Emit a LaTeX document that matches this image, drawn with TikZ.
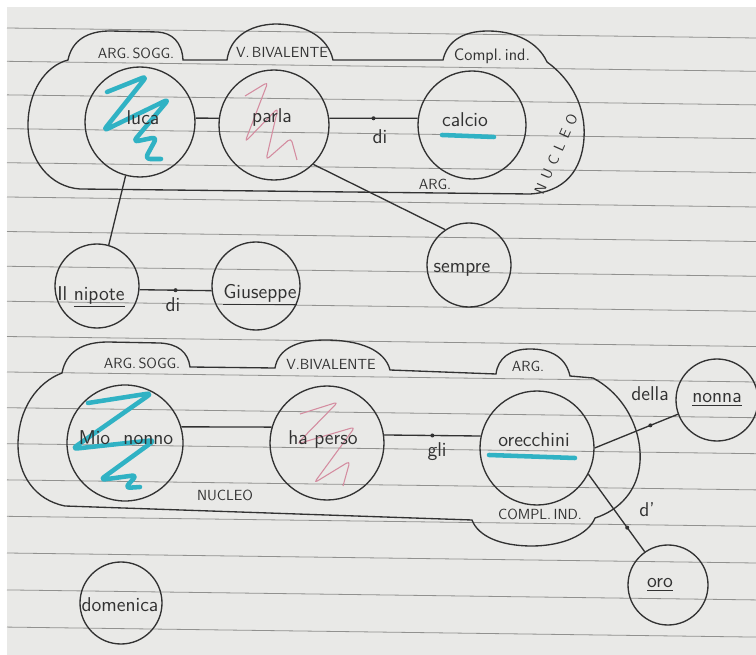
\documentclass[tikz,border=0pt]{standalone}
\usepackage{fontspec}
\usepackage{amsmath}
\usepackage{tikz}

\definecolor{paper}{RGB}{233,233,231}
\definecolor{ruling}{RGB}{145,145,143}
\definecolor{pen}{RGB}{50,50,50}
\definecolor{marker}{RGB}{48,178,196}
\definecolor{rosa}{RGB}{212,140,160}

\begin{document}
\begin{tikzpicture}[x=0.75pt,y=0.75pt,yscale=-1,xscale=1,
  ring/.style={circle,draw=pen,line width=1pt,inner sep=0pt,minimum size=1.5*#1pt},
  word/.style={font=\sffamily\fontsize{15}{15}\selectfont,text=pen,inner sep=0.75pt},
  tag/.style={font=\sffamily\fontsize{11}{11}\selectfont,text=pen,inner sep=0.75pt},
  link/.style={draw=pen,line width=1pt},
  knot/.style={circle,fill=pen,inner sep=0pt,minimum size=3pt},
  zig/.style={line width=3.4pt,marker,line cap=round,line join=round,rounded corners=4pt},
  pinkzig/.style={line width=0.8pt,rosa,line join=round,rounded corners=3pt},
  cloud/.style={draw=pen,line width=1pt}]
\useasboundingbox (0,0) rectangle (756,655);

%Paper
\fill[white] (0,0) rectangle (756,655);
\fill[paper] (7,7) rectangle (756,655);
\foreach \k in {0,...,17}
  \draw[ruling,line width=0.6pt] (7,{28+33.2*\k+0.12*\k*\k}) -- (756,{38+33.2*\k+0.12*\k*\k});

%Shape: top cloud (nucleo)
\draw[cloud] (68,60) .. controls (72,40) and (88,31) .. (110,31) -- (158,32) .. controls (172,33) and (182,42) .. (183,60) -- (227,60) .. controls (230,38) and (248,25) .. (275,24) .. controls (305,24) and (328,37) .. (333,60) -- (443,60) .. controls (447,42) and (462,31) .. (488,31) .. controls (515,31) and (538,42) .. (547,62) .. controls (572,80) and (586,108) .. (584,138) .. controls (582,170) and (565,192) .. (530,194) -- (80,189) .. controls (50,187) and (28,160) .. (28,125) .. controls (28,92) and (45,66) .. (68,60) -- cycle;
%Shape: bottom cloud (nucleo)
\draw[cloud] (62,373) .. controls (66,352) and (82,342) .. (108,342) -- (160,343) .. controls (178,344) and (188,352) .. (190,367) -- (275,368) .. controls (278,350) and (295,340) .. (325,340) .. controls (360,340) and (385,350) .. (390,370) -- (496,374) .. controls (498,358) and (510,349) .. (530,349) .. controls (552,349) and (566,358) .. (570,376) -- (593,378) .. controls (625,395) and (642,430) .. (640,462) .. controls (638,490) and (620,510) .. (595,518) .. controls (588,535) and (562,546) .. (532,546) .. controls (500,546) and (478,536) .. (472,520) -- (65,506) .. controls (35,500) and (18,475) .. (18,445) .. controls (18,408) and (38,382) .. (62,373) -- cycle;

%Scribbles
\draw[zig] (107,92) -- (147,76) -- (103,131) -- (169,99) -- (133,142) -- (157,137) -- (145,159) -- (161,159);
\draw[pinkzig] (245,96) -- (268,82) -- (245,142) -- (278,108) -- (266,160) -- (291,138) -- (297,160);
\draw[zig] (88,403) -- (152,393) -- (72,449) -- (155,440) -- (100,480) -- (137,475) -- (125,488) -- (140,487);
\draw[pinkzig] (300,414) -- (338,402) -- (297,444) -- (355,427) -- (314,483) -- (350,461) -- (343,486);
\draw[zig] (442,135) -- (494,137);
\draw[zig] (489,455) -- (575,458);

%Circles
\node[ring=55] (luca) at (140,122) {};
\node[ring=55] (parla) at (274,125) {};
\node[ring=54] (calcio) at (472,125) {};
\node[ring=42] (nipote) at (97,286) {};
\node[ring=44] (giuseppe) at (256,286) {};
\node[ring=42] (sempre) at (469,265) {};
\node[ring=58] (nonno) at (125,443) {};
\node[ring=57] (perso) at (327,443) {};
\node[ring=57] (orecchini) at (537,448) {};
\node[ring=41] (nonna) at (717,400) {};
\node[ring=40] (oro) at (668,585) {};
\node[ring=41] (domenica) at (121,603) {};

%Connectors
\draw[link] (luca.4) -- (parla.173);
\draw[link] (parla.7) -- node[knot] (dotA) {} (calcio.173);
\draw[link] (luca.-105) -- (nipote.74);
\draw[link] (parla.-45) -- (sempre.124);
\draw[link] (nipote.-5) -- node[knot] (dotB) {} (giuseppe.186);
\draw[link] (nonno.16) -- (perso.164);
\draw[link] (perso.8) -- node[knot] (dotC) {} (orecchini.168);
\draw[link] (orecchini.0) -- node[knot,pos=0.67] (dotD) {} (nonna.200);
\draw[link] (orecchini.-27) -- node[knot,pos=0.69] (dotE) {} (oro.125);

% Text Node
\node[tag] (sogg1) at (136,53) {ARG.\,SOGG.};
\node[tag] (biv1) at (282,52) {V.\,BIVALENTE};
\node[tag,font=\sffamily\fontsize{12.5}{12.5}\selectfont] (compl1) at (492,56) {Compl.\,ind.};
\node[tag,rotate=66] (nucleo1) at (556,154) {N\kern4.5pt U\kern4.5pt C\kern4.5pt L\kern4.5pt E\kern4.5pt O};
\node[tag] (arg1) at (435,184) {ARG.};
\node[word] (luca-t) at (143,118) {luca};
\node[word] (parla-t) at (272,118) {parla};
\node[word] (calcio-t) at (465,120) {calcio};
\node[word] (di1) at (380,137) {di};
\node[word] (nipote-t) at (91,297) {Il \underline{nipote}};
\node[word] (giuseppe-t) at (260,295) {\underline{Giuseppe}};
\node[word] (di2) at (173,305) {di};
\node[word] (sempre-t) at (462,270) {sempre};
\node[tag] (sogg2) at (142,363) {ARG.\,SOGG.};
\node[tag] (biv2) at (331,364) {V.BIVALENTE};
\node[tag] (arg2) at (528,366) {ARG.};
\node[word] (nonno-t) at (126,438) {Mio\hspace{10pt}nonno};
\node[word] (perso-t) at (323,440) {ha perso};
\node[word] (gli) at (437,452) {gli};
\node[word] (orecchini-t) at (534,440) {orecchini};
\node[word] (della) at (650,394) {della};
\node[word] (nonna-t) at (717,400) {\underline{nonna}};
\node[tag] (nucleo2) at (225,495) {NUCLEO};
\node[tag] (compl2) at (540,514) {COMPL.\,IND.};
\node[word] (dprime) at (647,510) {d'};
\node[word] (oro-t) at (660,585) {\underline{oro}};
\node[word] (domenica-t) at (120,605) {domenica};
\end{tikzpicture}
\end{document}
